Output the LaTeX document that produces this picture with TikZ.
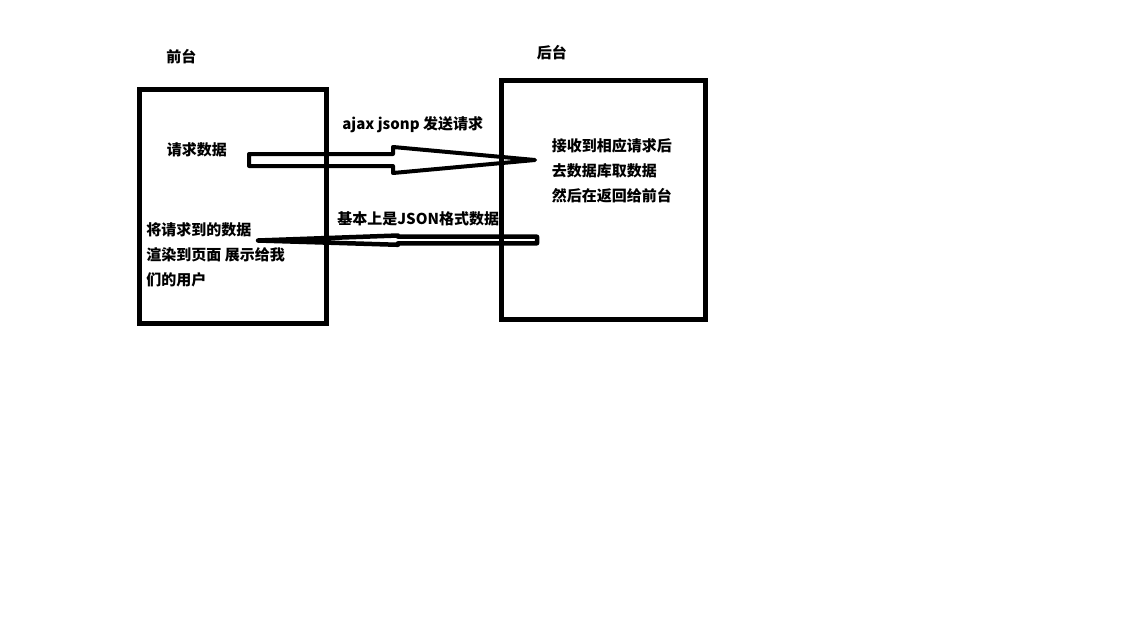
\documentclass[tikz,border=0pt]{standalone}
\usepackage{fontspec}
\newfontfamily\cjk{Noto Sans CJK SC}
\usetikzlibrary{calc}

\begin{document}
\begin{tikzpicture}[x=1pt, y=-1pt, thick,
    frame/.style={line width=5pt},
    hollow/.style={line width=4pt, line join=round},
    txt/.style={font=\cjk\bfseries\fontsize{15}{25}\selectfont, anchor=west, align=left, inner sep=0pt}]
  \useasboundingbox (0,0) rectangle (1122,629);
  % boxes
  \coordinate (F1) at (139.5, 89);
  \coordinate (F2) at (326, 323);
  \coordinate (B1) at (501.7, 80);
  \coordinate (B2) at (705, 319);
  \draw[frame] (F1) rectangle (F2);
  \draw[frame] (B1) rectangle (B2);
  \node[txt] (front) at (166, 57) {前台};
  \node[txt] (back)  at (536.5, 52.5) {后台};
  % request arrow
  \coordinate (Rs) at (249, 160);
  \coordinate (Rh) at (393, 160);
  \coordinate (Rt) at (535, 160);
  \draw[hollow] ($(Rs)+(0,-6)$) -- ($(Rh)+(0,-6)$) -- ($(Rh)+(0,-13)$) -- (Rt)
    -- ($(Rh)+(0,13)$) -- ($(Rh)+(0,6)$) -- ($(Rs)+(0,6)$) -- cycle;
  % response arrow
  \coordinate (Ps) at (537, 240);
  \coordinate (Ph) at (398, 240);
  \coordinate (Pt) at (258, 240.5);
  \draw[hollow, line width=4.5pt] ($(Ps)+(0,-3.3)$) -- ($(Ph)+(0,-3.3)$) -- ($(Ph)+(0,-4.5)$) -- (Pt)
    -- ($(Ph)+(0,4.8)$) -- ($(Ph)+(0,3.3)$) -- ($(Ps)+(0,3.3)$) -- cycle;
  % labels
  \node[txt] (ask)   at (166.5, 150) {请求数据};
  \node[txt] (show)  at (146, 255) {将请求到的数据\\渲染到页面 展示给我\\们的用户};
  \node[txt] (send)  at (342, 125) {ajax jsonp 发送请求};
  \node[txt] (json)  at (337, 218.5) {基本上是JSON格式数据};
  \node[txt] (reply) at (551.5, 170.5) {接收到相应请求后\\去数据库取数据\\然后在返回给前台};
\end{tikzpicture}
\end{document}
